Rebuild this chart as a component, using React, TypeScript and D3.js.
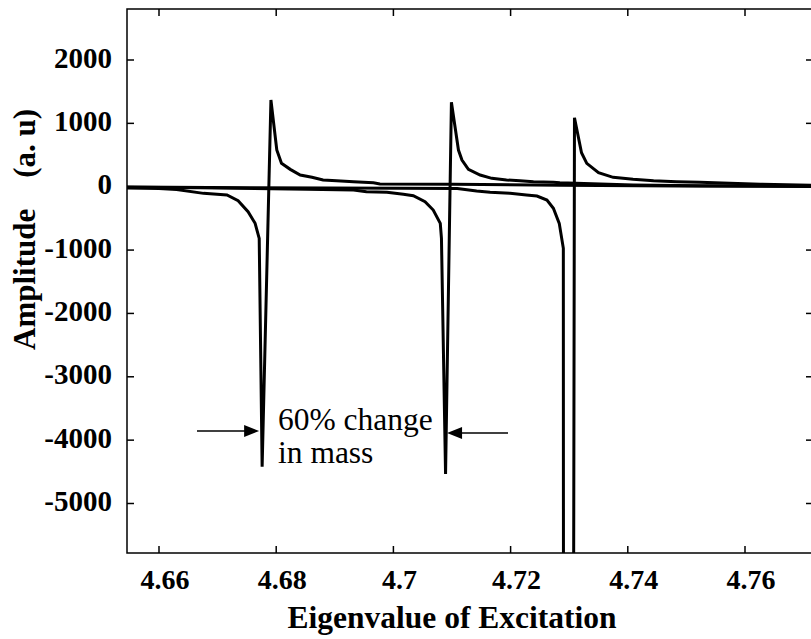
import React from "react";
import * as d3 from "d3";

// ---- data ----
const xTickValues = [4.66, 4.68, 4.7, 4.72, 4.74, 4.76];
const xTickLabels = ["4.66", "4.68", "4.7", "4.72", "4.74", "4.76"];
const yTickValues = [2000, 1000, 0, -1000, -2000, -3000, -4000, -5000];
const yTickLabels = ["2000", "1000", "0", "-1000", "-2000", "-3000", "-4000", "-5000"];

// curve A: resonance near 4.678
const curveAx = [4.6545, 4.66, 4.663, 4.6676, 4.6716, 4.6735, 4.6752, 4.6764, 4.6771, 4.6776, 4.6791, 4.6801, 4.6809, 4.6824, 4.6841, 4.6861, 4.688, 4.6903, 4.6932, 4.6966, 4.6977, 4.7102, 4.7284, 4.7489, 4.772];
const curveAy = [-20, -30, -45, -105, -131, -221, -395, -578, -815, -4420, 1368, 579, 369, 274, 185, 148, 106, 95, 79, 63, 43, 38, 25, 12, 5];

// curve B: resonance near 4.709 (60% change in mass)
const curveBx = [4.6545, 4.667, 4.6852, 4.6932, 4.6954, 4.6989, 4.7017, 4.7034, 4.7054, 4.7068, 4.708, 4.7082, 4.7089, 4.7099, 4.7111, 4.7117, 4.7128, 4.7148, 4.7168, 4.7193, 4.7216, 4.7239, 4.7273, 4.7284, 4.7353, 4.7409, 4.7523, 4.772];
const curveBy = [-10, -15, -41, -52, -79, -89, -120, -142, -237, -368, -578, -815, -4535, 1332, 579, 421, 274, 185, 132, 106, 95, 79, 72, 63, 43, 27, 15, 5];

// curve C: resonance near 4.730
const curveCx = [4.6545, 4.6755, 4.7011, 4.7109, 4.7142, 4.7165, 4.7199, 4.7227, 4.7245, 4.7262, 4.7273, 4.7283, 4.729, 4.7293, 4.7309, 4.7321, 4.733, 4.735, 4.7375, 4.7409, 4.7444, 4.7483, 4.7523, 4.7626, 4.772];
const curveCy = [-5, -15, -25, -30, -68, -89, -105, -131, -147, -210, -341, -578, -972, -80000, 1089, 537, 369, 221, 148, 117, 95, 79, 69, 40, 20];

const series = [
  { name: "A", xs: curveAx, ys: curveAy },
  { name: "B", xs: curveBx, ys: curveBy },
  { name: "C", xs: curveCx, ys: curveCy },
];

const W = 811;
const H = 639;
const plot = { left: 127, top: 9, right: 813, bottom: 553 };
const FONT = "Liberation Serif, Tinos, Times, serif";
const bold: React.CSSProperties = { fontFamily: FONT, fontWeight: 700 };
const regular: React.CSSProperties = { fontFamily: FONT, fontWeight: 400 };

export default function App() {
  const x = d3.scaleLinear().domain([4.66, 4.76]).range([159, 745]);
  const y = d3.scaleLinear().domain([2000, -5000]).range([60, 503.5]);
  const line = d3
    .line<[number, number]>()
    .x((d) => x(d[0]))
    .y((d) => y(d[1]));

  const tick = 7;
  const arrowY1 = 431;
  const arrowY2 = 433;
  const tipL = x(curveAx[9]) - 3;
  const tipR = x(curveBx[12]) + 1.5;

  return (
    <svg
      width={W}
      height={H}
      style={{ position: "absolute", left: 0, top: 0, background: "#fff", fontFamily: FONT }}
    >
      <defs>
        <clipPath id="plotclip">
          <rect
            x={plot.left}
            y={plot.top}
            width={plot.right - plot.left}
            height={plot.bottom - plot.top}
          />
        </clipPath>
      </defs>
      <rect width={W} height={H} fill="#fff" />

      {/* curves */}
      <g clipPath="url(#plotclip)">
        {series.map((s) => (
          <path
            key={s.name}
            d={line(s.xs.map((v, i) => [v, s.ys[i]] as [number, number])) || ""}
            fill="none"
            stroke="#000"
            strokeWidth={3}
            strokeLinejoin="miter"
            strokeMiterlimit={10}
          />
        ))}
      </g>

      {/* frame */}
      <rect
        x={plot.left}
        y={plot.top}
        width={plot.right - plot.left}
        height={plot.bottom - plot.top}
        fill="none"
        stroke="#000"
        strokeWidth={1.5}
      />

      {/* x ticks */}
      {xTickValues.map((v, i) => (
        <g key={"xt" + i}>
          <line x1={x(v)} x2={x(v)} y1={plot.bottom} y2={plot.bottom - tick} stroke="#000" strokeWidth={1.5} />
          <line x1={x(v)} x2={x(v)} y1={plot.top} y2={plot.top + tick} stroke="#000" strokeWidth={1.5} />
          <text x={x(v) + 6} y={589} textAnchor="middle" fontSize={28} style={bold}>
            {xTickLabels[i]}
          </text>
        </g>
      ))}

      {/* y ticks */}
      {yTickValues.map((v, i) => (
        <g key={"yt" + i}>
          <line x1={plot.left} x2={plot.left + tick} y1={y(v)} y2={y(v)} stroke="#000" strokeWidth={1.5} />
          <line x1={plot.right} x2={plot.right - tick} y1={y(v)} y2={y(v)} stroke="#000" strokeWidth={1.5} />
          <text x={112} y={y(v) + 7.5} textAnchor="end" fontSize={29} style={bold}>
            {yTickLabels[i]}
          </text>
        </g>
      ))}

      {/* axis titles */}
      <text x={452} y={628} textAnchor="middle" fontSize={31.5} style={bold}>
        Eigenvalue of Excitation
      </text>
      <text
        transform="translate(35,350) rotate(-90)"
        textAnchor="start"
        fontSize={31}
        style={{ ...bold, whiteSpace: "pre" }}
      >
        {"Amplitude    (a. u)"}
      </text>

      {/* annotation */}
      <text x={278} y={430} fontSize={31.5} style={regular}>
        60% change
      </text>
      <text x={278} y={463} fontSize={31.5} style={regular}>
        in mass
      </text>
      <line x1={197} x2={tipL - 13} y1={arrowY1} y2={arrowY1} stroke="#000" strokeWidth={1.5} />
      <path
        d={`M${tipL},${arrowY1} L${tipL - 15},${arrowY1 - 6} L${tipL - 15},${arrowY1 + 6} Z`}
        fill="#000"
      />
      <line x1={508} x2={tipR + 13} y1={arrowY2} y2={arrowY2} stroke="#000" strokeWidth={1.5} />
      <path
        d={`M${tipR},${arrowY2} L${tipR + 15},${arrowY2 - 6} L${tipR + 15},${arrowY2 + 6} Z`}
        fill="#000"
      />
    </svg>
  );
}
